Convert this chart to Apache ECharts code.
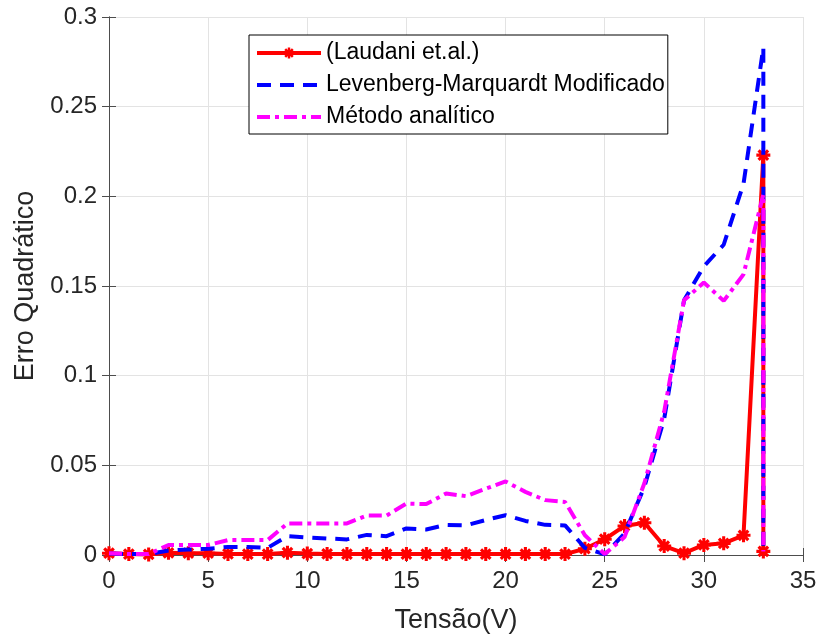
<!DOCTYPE html>
<html>
<head>
<meta charset="utf-8">
<script src="https://cdn.jsdelivr.net/npm/echarts@6/dist/echarts.min.js"></script>
<style>
html,body{margin:0;padding:0;background:#fff;}
#chart{width:820px;height:639px;}
</style>
</head>
<body>
<div id="chart"></div>
<script>
const voltage = [0,1,2,3,4,5,6,7,8,9,10,11,12,13,14,15,16,17,18,19,20,21,22,23,24,25,26,27,28,29,30,31,32,33,33];
const laudani = [0.001,0.0005,0.0003,0.0012,0.001,0.001,0.0006,0.0005,0.0005,0.0013,0.0008,0.0006,0.0005,0.0005,0.0005,0.0005,0.0005,0.0005,0.0005,0.0005,0.0005,0.0005,0.0005,0.0005,0.0035,0.0088,0.0162,0.018,0.005,0.001,0.0056,0.0065,0.011,0.223,0.002];
const lmModificado = [0.0008,0.0005,0.0005,0.0025,0.003,0.0035,0.0045,0.0045,0.004,0.0105,0.0098,0.0092,0.0087,0.0112,0.0105,0.0148,0.0142,0.0168,0.0165,0.0195,0.0222,0.019,0.0168,0.0165,0.004,0.0003,0.012,0.038,0.076,0.142,0.161,0.173,0.207,0.283,0.002];
const analitico = [0.001,0.0005,0.0005,0.0056,0.0056,0.0056,0.0083,0.0083,0.0083,0.0176,0.0176,0.0175,0.0176,0.022,0.022,0.0287,0.0284,0.0343,0.0328,0.037,0.041,0.0352,0.0306,0.0296,0.011,0.0005,0.01,0.04,0.08,0.142,0.152,0.1417,0.1565,0.201,0.002];
const xTicks = [0,5,10,15,20,25,30,35];
const yTicks = [0,0.05,0.1,0.15,0.2,0.25,0.3];
const seriesNames = ['(Laudani et.al.)','Levenberg-Marquardt Modificado','Método analítico'];

const pairs = ys => voltage.map((v,i)=>[v, ys[i]]);
const star = 'path://M-1.1,-5 L1.1,-5 L1.1,5 L-1.1,5 Z M-5,-1.1 L5,-1.1 L5,1.1 L-5,1.1 Z M-2.6,-4.2 L4.2,2.6 L2.6,4.2 L-4.2,-2.6 Z M4.2,-2.6 L-2.6,4.2 L-4.2,2.6 L2.6,-4.2 Z';
const FONT = 'Liberation Sans, Arial, Helvetica, sans-serif';
const frame = '#4d4d4d';
const txt = '#262626';

const chart = echarts.init(document.getElementById('chart'), null, {renderer:'canvas'});
const baseX = {
  type:'value', min:xTicks[0], max:xTicks[xTicks.length-1], interval:5,
  axisLine:{show:true, lineStyle:{color:frame, width:1}},
  axisTick:{show:true, inside:true, length:7, lineStyle:{color:frame}},
  splitLine:{show:false}
};
const baseY = {
  type:'value', min:yTicks[0], max:yTicks[yTicks.length-1], interval:0.05,
  axisLine:{show:true, lineStyle:{color:frame, width:1}},
  axisTick:{show:true, inside:true, length:7, lineStyle:{color:frame}},
  splitLine:{show:false}
};
chart.setOption({
  animation:false,
  backgroundColor:'#fff',
  grid:{left:109, right:17, top:17, bottom:82, containLabel:false},
  legend:{
    data:[
      {name:seriesNames[0], lineStyle:{width:4}},
      {name:seriesNames[1], itemStyle:{opacity:0}, lineStyle:{width:4}},
      {name:seriesNames[2], itemStyle:{opacity:0}, lineStyle:{width:4}}
    ],
    orient:'vertical', left:249, top:35,
    itemWidth:64, itemHeight:14, itemGap:8,
    padding:[6,3,5,6],
    borderColor:'#000', borderWidth:1, backgroundColor:'#fff',
    textStyle:{fontFamily:FONT, fontSize:23, color:'#000', lineHeight:24}
  },
  xAxis:[
    Object.assign({}, baseX, {
      position:'bottom',
      name:'Tensão(V)', nameLocation:'middle', nameGap:52,
      nameTextStyle:{fontFamily:FONT, fontSize:27, color:txt},
      axisLabel:{show:true, fontFamily:FONT, fontSize:24, color:txt, margin:14},
      splitLine:{show:true, lineStyle:{color:'#e3e3e3', width:1}}
    }),
    Object.assign({}, baseX, {position:'top', axisLabel:{show:false}})
  ],
  yAxis:[
    Object.assign({}, baseY, {
      position:'left',
      name:'Erro Quadrático', nameLocation:'middle', nameGap:70,
      nameTextStyle:{fontFamily:FONT, fontSize:27, color:txt},
      axisLabel:{show:true, fontFamily:FONT, fontSize:24, color:txt, margin:12},
      splitLine:{show:true, lineStyle:{color:'#e3e3e3', width:1}}
    }),
    Object.assign({}, baseY, {position:'right', axisLabel:{show:false}})
  ],
  series:[
    {
      name:seriesNames[0], type:'line', data:pairs(laudani),
      xAxisIndex:0, yAxisIndex:0,
      symbol:star, symbolSize:14, showSymbol:true,
      itemStyle:{color:'#ff0000'},
      lineStyle:{color:'#ff0000', width:4, type:'solid'},
      z:2
    },
    {
      name:seriesNames[1], type:'line', data:pairs(lmModificado),
      xAxisIndex:0, yAxisIndex:0,
      symbol:'none', showSymbol:false,
      itemStyle:{color:'#0000ff'},
      lineStyle:{color:'#0000ff', width:4, type:[14,9]},
      z:3
    },
    {
      name:seriesNames[2], type:'line', data:pairs(analitico),
      xAxisIndex:0, yAxisIndex:0,
      symbol:'none', showSymbol:false,
      itemStyle:{color:'#ff00ff'},
      lineStyle:{color:'#ff00ff', width:4, type:[13,5,4,5]},
      z:4
    }
  ]
});
</script>
</body>
</html>
